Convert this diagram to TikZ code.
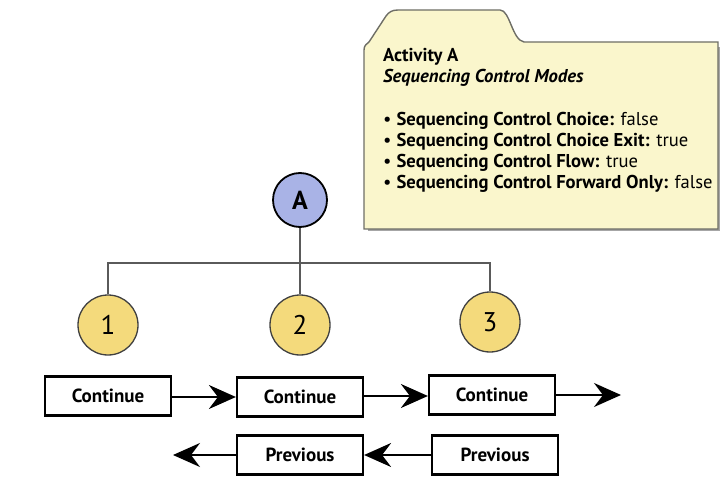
\documentclass[tikz,border=0pt]{standalone}
\usepackage{fontspec}
\setmainfont{PT Sans}
\usetikzlibrary{arrows.meta}
\definecolor{folderfill}{HTML}{FAF6CC}
\definecolor{folderedge}{HTML}{6E6E66}
\definecolor{afill}{HTML}{A9B3E6}
\definecolor{nfill}{HTML}{F4DA7C}
\definecolor{linegray}{HTML}{5A5A5A}
\tikzset{
  topnode/.style={circle, draw=black, line width=1.8pt, fill=afill, minimum size=54pt, inner sep=0pt, font=\fontsize{26}{26}\selectfont\bfseries},
  subnode/.style={circle, draw=black!75, line width=1.3pt, fill=nfill, minimum size=60pt, inner sep=0pt, font=\fontsize{27}{27}\selectfont},
  btn/.style={draw=black, line width=2.2pt, fill=white, minimum width=126pt, minimum height=39pt, inner sep=0pt, font=\fontsize{19}{19}\selectfont\bfseries},
  tree/.style={draw=linegray, line width=1.6pt},
  flow/.style={draw=black, line width=2pt, -{Stealth[length=27pt,width=24pt,inset=9pt]}},
  bul/.style={anchor=west, font=\fontsize{18.6}{19}\selectfont, inner sep=0pt}
}
\begin{document}
\begin{tikzpicture}[x=1pt,y=-1pt]
\useasboundingbox (0,0) rectangle (720,497);
% folder shadow
\fill[black!35] (368,47) -- (368,231) -- (722,231) -- (722,47) -- cycle;
% folder
\draw[fill=folderfill, draw=folderedge, line width=1.4pt]
  (364,229) -- (364,50) .. controls (364,45) and (367,44) .. (369,42)
  -- (386,16) .. controls (389,12) and (392,10) .. (398,10)
  -- (500,10) .. controls (510,10) and (512,40) .. (524,42)
  -- (718,42) -- (718,229) -- cycle;
\node[anchor=west, inner sep=0pt, font=\fontsize{18.6}{19}\selectfont\bfseries] (title) at (383,57) {Activity A};
\node[anchor=west, inner sep=0pt, font=\fontsize{18.6}{19}\selectfont\bfseries\itshape] (sub) at (383,78) {Sequencing Control Modes};
\node[bul] (b1) at (383,121) {\textbullet\hspace{5pt}\textbf{Sequencing Control Choice:} false};
\node[bul] (b2) at (383,142) {\textbullet\hspace{5pt}\textbf{Sequencing Control Choice Exit:} true};
\node[bul] (b3) at (383,163) {\textbullet\hspace{5pt}\textbf{Sequencing Control Flow:} true};
\node[bul] (b4) at (383,184) {\textbullet\hspace{5pt}\textbf{Sequencing Control Forward Only:} false};
% tree
\node[topnode] (A) at (300,200) {A};
\node[subnode] (n1) at (108,325) {1};
\node[subnode] (n2) at (300,325) {2};
\node[subnode] (n3) at (490,322) {3};
\coordinate (jl) at (108,263);
\coordinate (jr) at (490,263);
\draw[tree] (A.south) -- (n2.north);
\draw[tree] (n1.north) -- (jl) -- (jr) -- (n3.north);
% buttons
\node[btn] (c1) at (108,396) {Continue};
\node[btn] (c2) at (300,397) {Continue};
\node[btn] (c3) at (492,395) {Continue};
\node[btn] (p2) at (300,455) {Previous};
\node[btn] (p3) at (495,455) {Previous};
\coordinate (cend) at (621,395);
\coordinate (pend) at (173,455);
\draw[flow] (c1.east |- 0,397) -- (c2.west);
\draw[flow] (c2.east |- 0,396) -- (c3.west |- 0,396);
\draw[flow] (c3.east) -- (cend);
\draw[flow] (p3.west) -- (p2.east);
\draw[flow] (p2.west) -- (pend);
\end{tikzpicture}
\end{document}
